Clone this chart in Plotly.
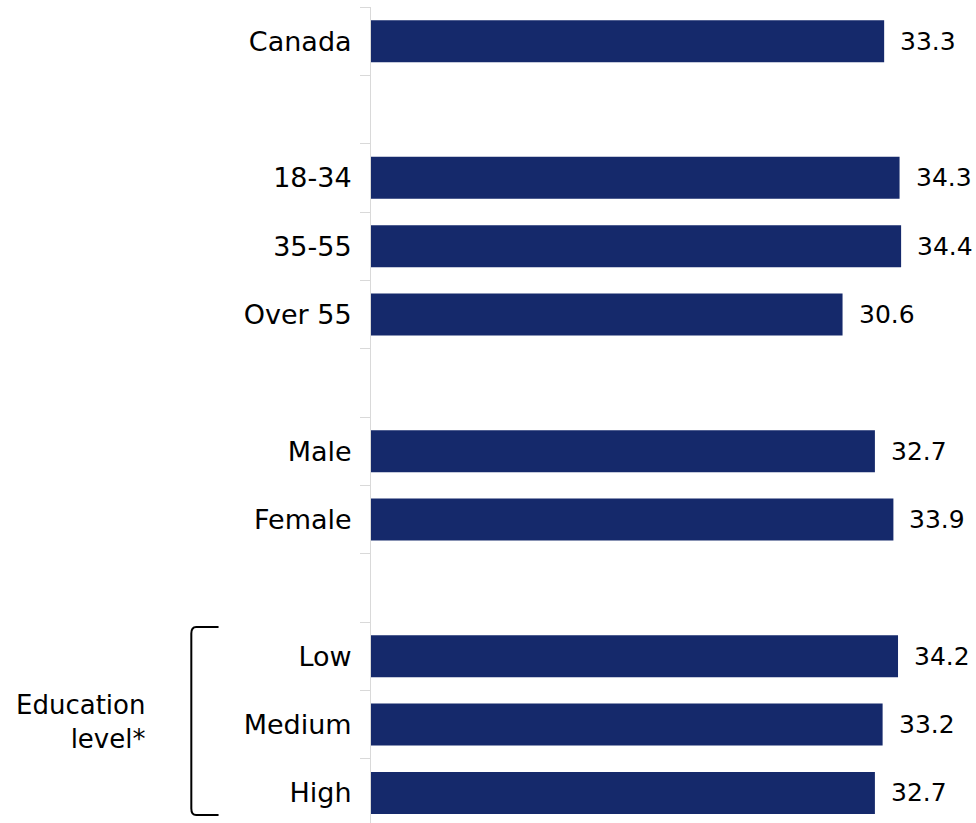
import plotly.graph_objects as go

# Categories, top to bottom (blank strings are spacer rows between groups)
categories = ["Canada", " ", "18-34", "35-55", "Over 55", "  ",
              "Male", "Female", "   ", "Low", "Medium", "High"]
values = [33.3, None, 34.3, 34.4, 30.6, None,
          32.7, 33.9, None, 34.2, 33.2, 32.7]

BAR_COLOR = "#15296b"
AXIS_GREY = "#d9d9d9"
FONT = "DejaVu Sans"

fig = go.Figure()
fig.add_trace(go.Bar(
    x=values,
    y=categories,
    orientation="h",
    marker=dict(color=BAR_COLOR, line=dict(width=0)),
    hoverinfo="skip",
))

# Value labels placed just beyond the end of each bar
for cat, val in zip(categories, values):
    if val is None:
        continue
    fig.add_annotation(
        x=val, y=cat, xref="x", yref="y",
        text=f"{val:.1f}", showarrow=False,
        xanchor="left", yanchor="middle", xshift=14,
        font=dict(family=FONT, size=25, color="black"),
    )

# Group label for the education rows
fig.add_annotation(
    x=-0.370, y=0.124, xref="paper", yref="paper",
    text="Education<br>level*", showarrow=False,
    xanchor="right", yanchor="middle", align="right",
    font=dict(family=FONT, size=26, color="black"),
)

# Bracket grouping the education rows
bx0, bx1 = -0.297, -0.252
by_top, by_bot = (823 - 627) / 816, (823 - 815) / 816
r = 0.008
fig.add_shape(
    type="path", xref="paper", yref="paper",
    path=(f"M {bx1} {by_top} L {bx0 + r} {by_top} Q {bx0} {by_top} {bx0} {by_top - r} "
          f"L {bx0} {by_bot + r} Q {bx0} {by_bot} {bx0 + r} {by_bot} L {bx1} {by_bot}"),
    line=dict(color="black", width=2),
)

fig.update_layout(
    width=976, height=823,
    margin=dict(l=371, r=0, t=7, b=0),
    paper_bgcolor="white", plot_bgcolor="white",
    bargap=0.385,
    showlegend=False,
    font=dict(family=FONT, color="black"),
    xaxis=dict(visible=False, range=[0, 39.26], fixedrange=True),
    yaxis=dict(
        type="category",
        categoryorder="array", categoryarray=categories,
        range=[11.44, -0.5],
        showline=True, linecolor=AXIS_GREY, linewidth=1,
        ticks="outside", ticklen=10, tickcolor=AXIS_GREY, tickwidth=1,
        tickson="boundaries",
        ticklabelstandoff=13,
        showgrid=False, zeroline=False,
        tickfont=dict(family=FONT, size=27, color="black"),
    ),
)

fig.write_html("out.html")
